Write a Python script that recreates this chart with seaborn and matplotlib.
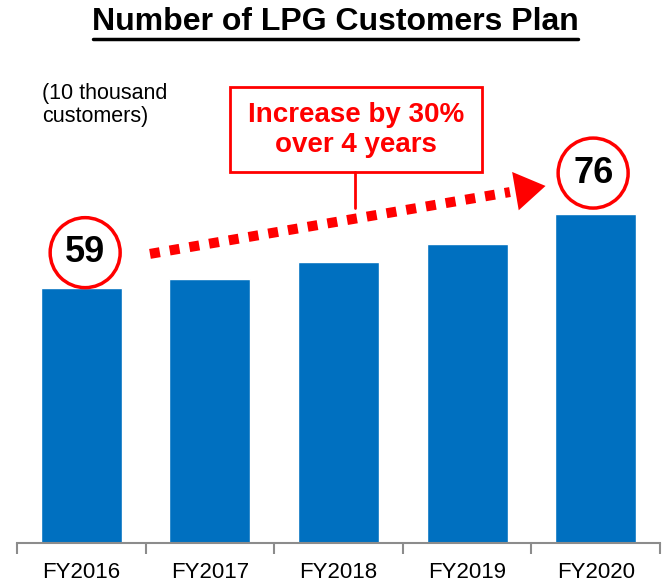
import numpy as np
import matplotlib.pyplot as plt
import seaborn as sns
from matplotlib.patches import Ellipse, Rectangle
from matplotlib.lines import Line2D

# Data
years = ["FY2016", "FY2017", "FY2018", "FY2019", "FY2020"]
customers = [59, 61, 65, 69, 76]  # 10 thousand customers
bar_color = "#0070C0"
red = "#FF0000"

sns.set_style("white")
plt.rcParams['font.family'] = ['Liberation Sans', 'DejaVu Sans']

W, H = 662, 586
fig = plt.figure(figsize=(W / 100, H / 100), dpi=100)


def fx(px):
    return px / W


def fy(py):
    return 1 - py / H


# axes: x line from 17 to 660 px, baseline at 543 px, top at 60 px
ax = fig.add_axes([fx(17), fy(543), fx(660) - fx(17), fy(60) - fy(543)])
sns.barplot(x=years, y=customers, color=bar_color, saturation=1, width=0.63, ax=ax)

ax.set_xlim(-0.5, 4.5)
ax.set_ylim(0, 111.6)
ax.set_xlabel("")
ax.set_ylabel("")
ax.set_yticks([])
for s in ["left", "top", "right"]:
    ax.spines[s].set_visible(False)
ax.spines["bottom"].set_color("#8C8C8C")
ax.spines["bottom"].set_linewidth(1.5)
ax.set_xticks(np.arange(-0.5, 5, 1), minor=True)
ax.tick_params(axis="x", which="minor", bottom=True, length=8, width=1.5,
               color="#8C8C8C", direction="out")
ax.tick_params(axis="x", which="major", bottom=True, length=0, pad=14, labelsize=16,
               labelcolor="black")

# circled start / end values
px_x = 643 / 5   # pixels per category
px_y = 483 / 111.6  # pixels per unit
r = 35
for i, dx, gap in [(0, 0.03, 0), (4, -0.02, 6)]:
    v = customers[i]
    cy = v + (r + gap) / px_y
    ax.add_patch(Ellipse((i + dx, cy), 2 * r / px_x, 2 * r / px_y, facecolor="white",
                         edgecolor=red, lw=2.5, zorder=5, clip_on=False))
    ax.text(i + dx, cy, str(v), ha="center", va="center", fontsize=26,
            fontweight="bold", color="black", zorder=6)

# dotted trend arrow
x0, y0 = 0.534, 66.8
x1, y1 = 3.61, 82.5
frac = 0.91
xm, ym = x0 + (x1 - x0) * frac, y0 + (y1 - y0) * frac
ax.plot([x0, xm], [y0, ym], color=red, lw=7.2, linestyle=(0, (1, 1)),
        dash_capstyle="butt", zorder=4, clip_on=False)
ax.annotate("", xy=(x1, y1), xytext=(xm - (x1 - x0) * 0.02, ym - (y1 - y0) * 0.02),
            arrowprops=dict(arrowstyle="-|>,head_length=1.1,head_width=0.7",
                            color=red, lw=0, mutation_scale=20, shrinkA=0, shrinkB=0),
            zorder=4)

# callout box
fig.add_artist(Rectangle((fx(230), fy(172)), fx(482) - fx(230), fy(87) - fy(172),
                         transform=fig.transFigure, facecolor="white", edgecolor=red, lw=2))
fig.add_artist(Line2D([fx(355), fx(355)], [fy(172), fy(208)], transform=fig.transFigure,
                      color=red, lw=2))
fig.text(fx(356), fy(115), "Increase by 30%", ha="center", va="center", fontsize=20,
         fontweight="bold", color=red)
fig.text(fx(356), fy(145), "over 4 years", ha="center", va="center", fontsize=20,
         fontweight="bold", color=red)

# unit label
fig.text(fx(42), fy(83), "(10 thousand\ncustomers)", ha="left", va="top", fontsize=15.5,
         linespacing=1.15, color="black")

# title with underline
fig.text(fx(335), fy(22), "Number of LPG Customers Plan", ha="center", va="center",
         fontsize=23, fontweight="bold", color="black")
fig.add_artist(Line2D([fx(93), fx(578)], [fy(39), fy(39)], transform=fig.transFigure,
                      color="black", lw=2.5))

plt.savefig("out.png", dpi=100)
